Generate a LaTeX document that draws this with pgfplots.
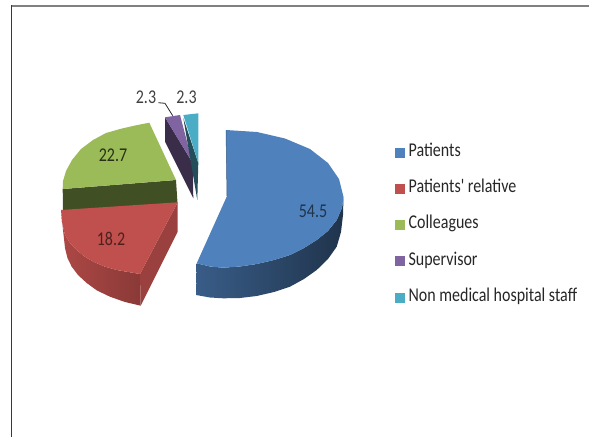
\documentclass[border=0pt]{standalone}
\usepackage{fontspec}
\setmainfont{Carlito}
\newfontfamily\lab[FakeStretch=0.82]{Carlito}
\usepackage{pgfplots}
\pgfplotsset{compat=1.18}
\definecolor{cB}{HTML}{4F81BD}
\definecolor{cR}{HTML}{C0504D}
\definecolor{cG}{HTML}{9BBB59}
\definecolor{cP}{HTML}{8064A2}
\definecolor{cC}{HTML}{4BACC6}
\newcommand{\labfont}{\lab\fontsize{19.5}{22}\selectfont}
\begin{document}
\begin{tikzpicture}
\path[use as bounding box] (0,0) rectangle (589pt,437pt);
\begin{axis}[
  at={(0,0)},anchor=south west,
  scale only axis,width=589pt,height=437pt,
  xmin=0,xmax=589,ymin=0,ymax=437,y dir=reverse,
  hide axis,clip=false,
  legend style={at={(axis cs:395,144)},anchor=north west,draw=none,fill=none,
    font=\labfont,text=black!85,row sep=20.3pt,inner sep=0pt,
    nodes={inner sep=0pt,text height=12pt,text depth=4pt}},
  legend cell align=left,
  every axis plot/.append style={no markers,forget plot},
]
% frame of the slide
\addplot[draw=black!50,line width=1.6pt] coordinates {(11,5.8) (589,5.8)};
\addplot[draw=black!78,line width=1.3pt] coordinates {(11.6,5) (11.6,437)};
% --- Patients (54.5)
\addplot[draw=none,left color=cB!72!black,middle color=cB!80!black,right color=cB!40!black] coordinates {
 (343.5,197) (342,208) (336.7,220) (328,231) (316.7,240) (304,248) (290,255) (274,260)
 (256.7,264) (240,266.5) (223,267.7) (210,266.5) (196.7,263.3) (196,295) (210,297.5)
 (223.3,298.3) (240,298) (256.7,296) (274,292) (290,286.7) (304,279) (316.7,270)
 (328,259) (336.7,246.7) (341,232) (343,215)} --cycle;
\addplot[draw=none,fill=cB] coordinates {
 (227,196) (226,130) (257,132) (285,138.5) (310,149) (328,163) (339,179) (343.5,197)
 (342,208) (336.7,220) (328,231) (316.7,240) (304,248) (290,255) (274,260) (256.7,264)
 (240,266.5) (223,267.7) (210,266.5) (196.7,263.3)} --cycle;
\addplot[draw=cB!70!black,line width=0.5pt] coordinates {(226,130) (227,196)};
% --- Colleagues (22.7)
\addplot[draw=none,fill=cG!42!black] coordinates {
 (62.7,189) (176,180) (177.5,203) (63,211)} --cycle;
\addplot[draw=none,fill=cG] coordinates {
 (176,180) (149.3,122.7) (135,125.5) (120,129) (106,133) (93,140) (81,149) (72,160)
 (66,171) (63,181) (62.7,189)} --cycle;
% --- Patients' relative (18.2)
\addplot[draw=none,left color=cR!90!black,right color=cR!72!black] coordinates {
 (61,210) (62,222) (65,235) (70,243) (76.7,250) (84.5,256.5) (93.3,261.7) (104.5,266.5)
 (116.7,270) (140,274) (140.7,305.7) (125,302) (110,296.7) (97,290.5) (86.7,283) (78,275)
 (71.7,266.7) (67.5,258) (65,248) (63,230)} --cycle;
\addplot[draw=none,fill=cR!80!black] coordinates {
 (177.7,202.3) (140,274) (140.7,305.7) (177.7,231.7)} --cycle;
\addplot[draw=none,fill=cR] coordinates {
 (61,210) (177.7,202.3) (140,274) (116.7,270) (104.5,266.5) (93.3,261.7) (84.5,256.5)
 (76.7,250) (70,243) (65,235) (62,222)} --cycle;
% --- Supervisor (2.3)
\addplot[draw=none,fill=cP!45!black] coordinates {
 (165,117.3) (165,141.7) (193.3,198.3) (192.7,163)} --cycle;
\addplot[draw=none,fill=cP] coordinates {
 (165,117.3) (180,115) (192.7,163)} --cycle;
% --- Non medical hospital staff (2.3)
\addplot[draw=none,fill=cC!45!black] coordinates {
 (183.3,118) (197.3,200) (198.3,163)} --cycle;
\addplot[draw=none,fill=cC] coordinates {
 (183.3,115) (198.3,113.3) (198.3,163)} --cycle;
% leader line
\addplot[draw=black!85,line width=0.8pt] coordinates {(158.3,102.7) (165,103.3) (172.7,115.7)};
% data labels
\node[font=\labfont,text=cB!40!black] at (axis cs:313,211.5) {54.5};
\node[font=\labfont,text=cG!25!black] at (axis cs:113,155.5) {22.7};
\node[font=\labfont,text=cR!40!black] at (axis cs:111,238.5) {18.2};
\node[font=\labfont,text=black!75] at (axis cs:146,97.5) {2.3};
\node[font=\labfont,text=black!75] at (axis cs:186.5,97.5) {2.3};
% legend
\addlegendimage{legend image code/.code={\fill[cB] (0pt,-4.5pt) rectangle (9pt,4.5pt);\path (13pt,0pt);}}
\addlegendentry{Patients}
\addlegendimage{legend image code/.code={\fill[cR] (0pt,-4.5pt) rectangle (9pt,4.5pt);\path (13pt,0pt);}}
\addlegendentry{Patients' relative}
\addlegendimage{legend image code/.code={\fill[cG] (0pt,-4.5pt) rectangle (9pt,4.5pt);\path (13pt,0pt);}}
\addlegendentry{Colleagues}
\addlegendimage{legend image code/.code={\fill[cP] (0pt,-4.5pt) rectangle (9pt,4.5pt);\path (13pt,0pt);}}
\addlegendentry{Supervisor}
\addlegendimage{legend image code/.code={\fill[cC] (0pt,-4.5pt) rectangle (9pt,4.5pt);\path (13pt,0pt);}}
\addlegendentry{Non medical hospital staff}
\end{axis}
\end{tikzpicture}
\end{document}
